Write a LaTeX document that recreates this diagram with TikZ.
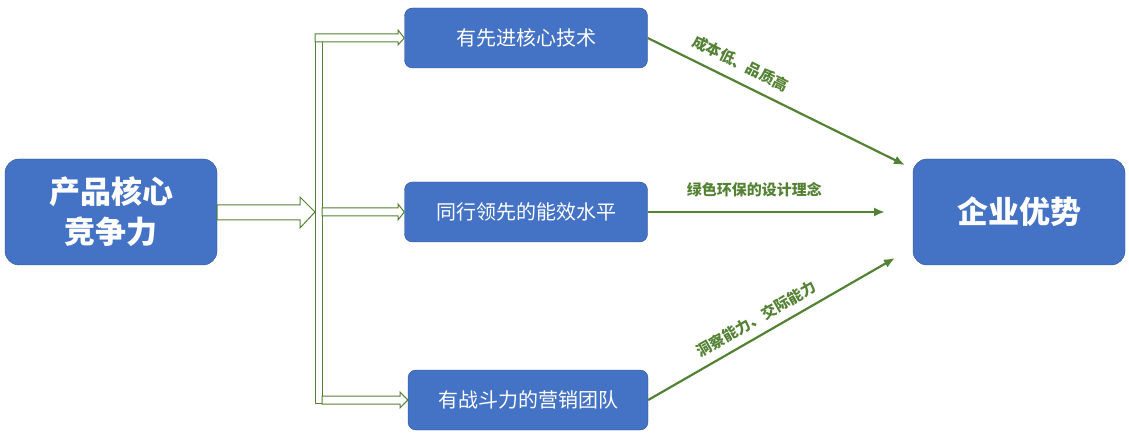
\documentclass[tikz,border=0pt]{standalone}
\usepackage{fontspec}
\setmainfont{Noto Sans CJK SC}
\usetikzlibrary{arrows.meta,positioning}
\definecolor{boxblue}{HTML}{4472C4}
\definecolor{boxline}{HTML}{2F528F}
\definecolor{leaf}{HTML}{548235}
\begin{document}
\begin{tikzpicture}[x=1pt,y=-1pt,
    box/.style={draw=boxline,fill=boxblue,rounded corners=8pt,text=white,
      inner sep=0pt,font=\fontsize{20}{24}\selectfont},
    bigbox/.style={box,rounded corners=14pt,font=\bfseries\fontsize{31}{40}\selectfont},
    link/.style={draw=leaf,line width=2.2pt,-{Latex[length=11pt,width=9pt]}},
    tag/.style={text=leaf,font=\bfseries\fontsize{15}{17}\selectfont,inner sep=2pt},
    hollow/.style={draw=leaf,fill=white,line width=1pt}]
  \useasboundingbox (0,0) rectangle (1129,443);
  \node[bigbox,minimum width=212pt,minimum height=106pt,align=center] (core) at (111,212) {产品核心\\竞争力};
  \node[box,minimum width=243pt,minimum height=60pt] (tech) at (526,38) {有先进核心技术};
  \node[box,minimum width=243pt,minimum height=60pt] (eff) at (526,212) {同行领先的能效水平};
  \node[box,minimum width=240pt,minimum height=60pt] (team) at (528,400) {有战斗力的营销团队};
  \node[bigbox,minimum width=212pt,minimum height=106pt] (adv) at (1019,212) {企业优势};
  % hollow arrows
  \draw[hollow] (core.east |- 0,205) -- (300,205) -- (300,197) -- (315,212) -- (300,228) -- (300,220) -- (core.east |- 0,220) -- cycle;
  \draw[hollow] (315,38) rectangle (322,403);
  \draw[hollow] (315,34) -- (398,34) -- (398,30) -- (tech.west) -- (398,45) -- (398,42) -- (315,42) -- cycle;
  \draw[hollow] (322,208) -- (398,208) -- (398,204) -- (eff.west) -- (398,220) -- (398,216) -- (322,216) -- cycle;
  \draw[hollow] (322,396) -- (400,396) -- (400,392) -- (team.west) -- (400,408) -- (400,404) -- (322,404) -- cycle;
  % links
  \coordinate (a1) at (905,165);
  \coordinate (a2) at (885,212);
  \coordinate (a3) at (895,258);
  \draw[link] (tech.east) -- (a1) node[tag,pos=0.33,above=8pt,sloped] {成本低、品质高};
  \draw[link] (eff.east) -- (a2) node[tag,pos=0.45,above=12pt] {绿色环保的设计理念};
  \draw[link] (team.east) -- (a3) node[tag,pos=0.47,above=6pt,sloped] {洞察能力、交际能力};
\end{tikzpicture}
\end{document}
